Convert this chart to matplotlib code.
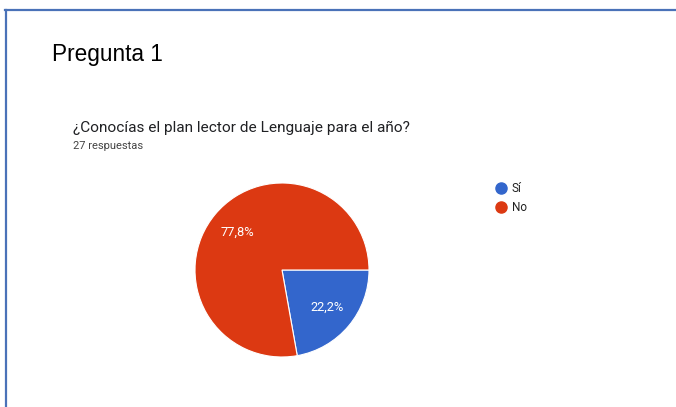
import matplotlib
matplotlib.use("Agg")
import matplotlib.pyplot as plt
from matplotlib.lines import Line2D

labels = ["Sí", "No"]
values = [22.2, 77.8]
colors = ["#3366CC", "#DC3912"]
title = "Pregunta 1"
question = "¿Conocías el plan lector de Lenguaje para el año?"
responses = "27 respuestas"

W, H = 676, 407
fig = plt.figure(figsize=(W / 100, H / 100), dpi=100)
fig.patch.set_facecolor("white")

def fx(x):
    return x / W

def fy(y):
    return 1 - y / H

# border (top and left)
fig.add_artist(Line2D([fx(5), fx(676)], [fy(10), fy(10)], color="#4A72B8", lw=1.6, transform=fig.transFigure))
fig.add_artist(Line2D([fx(6), fx(6)], [fy(10), fy(407)], color="#4A72B8", lw=1.6, transform=fig.transFigure))

fig.text(fx(52), fy(55), title, fontsize=16.3, family="Liberation Sans", va="center", ha="left", color="#000000")
fig.text(fx(73), fy(128), question, fontsize=11.1, family="Roboto", va="center", ha="left", color="#202124")
fig.text(fx(73), fy(146), responses, fontsize=8.0, family="Roboto", va="center", ha="left", color="#444444")

cx, cy, r = 282, 270, 87
ax = fig.add_axes([fx(cx - r), fy(cy + r), 2 * r / W, 2 * r / H])
wedges, texts, autotexts = ax.pie(
    values, colors=colors, startangle=0, counterclock=False,
    autopct=lambda p: f"{p:.1f}%".replace(".", ","), pctdistance=0.67,
    wedgeprops=dict(edgecolor="white", linewidth=0.8),
    textprops=dict(color="white", fontsize=9.3, family="Roboto"),
)
ax.set_xlim(-1.0, 1.0)
ax.set_ylim(-1.0, 1.0)
ax.set_aspect("auto")
ax.axis("off")

# legend
for i, (lab, col) in enumerate(zip(labels, colors)):
    y = 188 + i * 19
    fig.add_artist(Line2D([fx(501)], [fy(y)], marker="o", markersize=8, color=col, transform=fig.transFigure, lw=0))
    fig.text(fx(512), fy(y), lab, fontsize=8.5, family="Roboto", va="center", ha="left", color="#222222")

fig.savefig("out.png", dpi=100, facecolor="white")
